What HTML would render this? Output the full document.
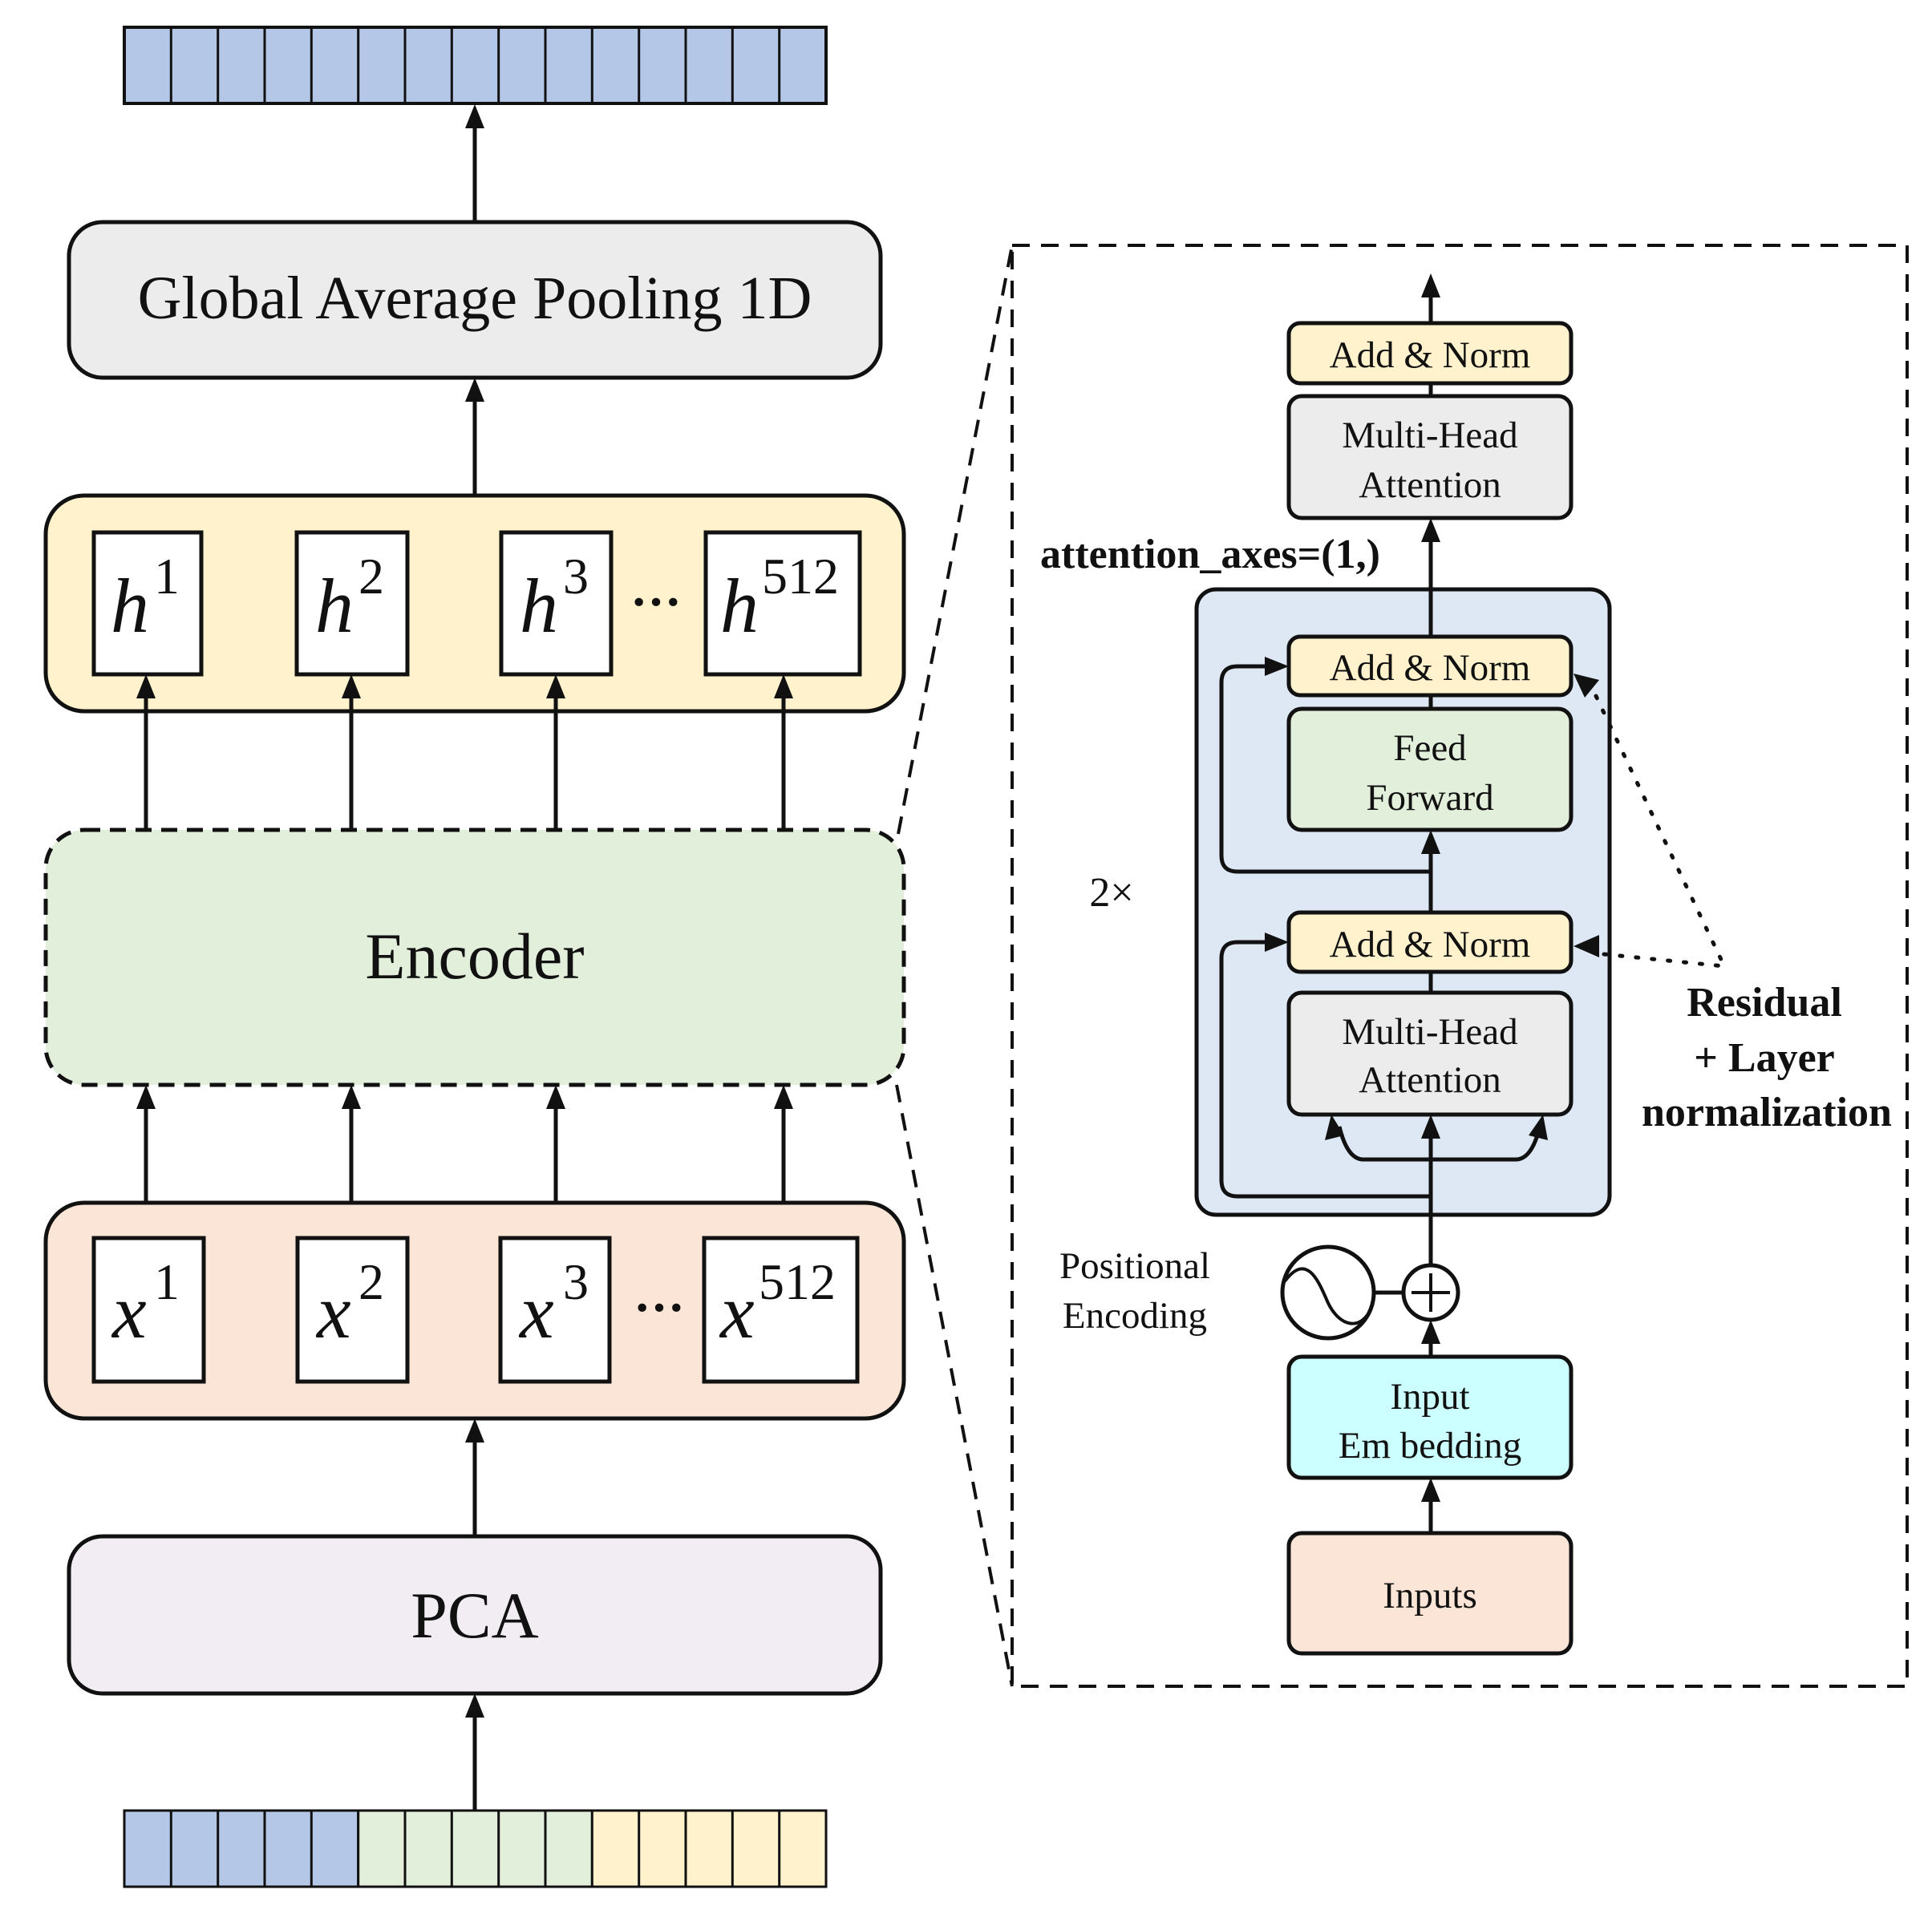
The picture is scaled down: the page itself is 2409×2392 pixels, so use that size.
<!DOCTYPE html>
<html><head><meta charset="utf-8"><style>html,body{margin:0;padding:0;background:#fff}svg{display:block}</style></head><body>
<svg width="2409" height="2392" viewBox="0 0 2409 2392" xmlns="http://www.w3.org/2000/svg" font-family="'Liberation Serif', serif">
<g stroke="#111" stroke-width="5" fill="none">
<rect x="155" y="34" width="875" height="95" fill="#b4c7e7" stroke-width="4"/>
</g>
<g stroke="#111" stroke-width="3">
<line x1="213.3" y1="34" x2="213.3" y2="129"/><line x1="271.7" y1="34" x2="271.7" y2="129"/><line x1="330" y1="34" x2="330" y2="129"/><line x1="388.3" y1="34" x2="388.3" y2="129"/><line x1="446.7" y1="34" x2="446.7" y2="129"/><line x1="505" y1="34" x2="505" y2="129"/><line x1="563.3" y1="34" x2="563.3" y2="129"/><line x1="621.7" y1="34" x2="621.7" y2="129"/><line x1="680" y1="34" x2="680" y2="129"/><line x1="738.3" y1="34" x2="738.3" y2="129"/><line x1="796.7" y1="34" x2="796.7" y2="129"/><line x1="855" y1="34" x2="855" y2="129"/><line x1="913.3" y1="34" x2="913.3" y2="129"/><line x1="971.7" y1="34" x2="971.7" y2="129"/>
</g>
<g stroke="#111" stroke-width="3">
<rect x="155" y="2258" width="291.7" height="95" fill="#b4c7e7"/>
<rect x="446.7" y="2258" width="291.7" height="95" fill="#e2efda"/>
<rect x="738.3" y="2258" width="291.7" height="95" fill="#fff2cc"/>
<line x1="213.3" y1="2258" x2="213.3" y2="2353"/><line x1="271.7" y1="2258" x2="271.7" y2="2353"/><line x1="330" y1="2258" x2="330" y2="2353"/><line x1="388.3" y1="2258" x2="388.3" y2="2353"/><line x1="505" y1="2258" x2="505" y2="2353"/><line x1="563.3" y1="2258" x2="563.3" y2="2353"/><line x1="621.7" y1="2258" x2="621.7" y2="2353"/><line x1="680" y1="2258" x2="680" y2="2353"/><line x1="796.7" y1="2258" x2="796.7" y2="2353"/><line x1="855" y1="2258" x2="855" y2="2353"/><line x1="913.3" y1="2258" x2="913.3" y2="2353"/><line x1="971.7" y1="2258" x2="971.7" y2="2353"/>
</g>
<g stroke="#111" stroke-width="5">
<rect x="86" y="277" width="1012" height="194" rx="42" fill="#ececec"/>
<rect x="57" y="618" width="1070" height="269" rx="48" fill="#fff2cc"/>
<rect x="57" y="1035" width="1070" height="318" rx="48" fill="#e2efda" stroke-dasharray="20,12"/>
<rect x="57" y="1500" width="1070" height="269" rx="48" fill="#fbe5d6"/>
<rect x="86" y="1916" width="1012" height="196" rx="42" fill="#f1edf3"/>
<g fill="#fff">
<rect x="117" y="664" width="134" height="177"/><rect x="370" y="664" width="138" height="177"/><rect x="625" y="664" width="137" height="177"/><rect x="880" y="664" width="192" height="177"/>
<rect x="117" y="1544" width="137" height="179"/><rect x="371" y="1544" width="137" height="179"/><rect x="624" y="1544" width="136" height="179"/><rect x="878" y="1544" width="191" height="179"/>
</g>
<line x1="592" y1="277" x2="592" y2="150"/>
<line x1="592" y1="618" x2="592" y2="490"/>
<line x1="182" y1="1035" x2="182" y2="860"/><line x1="438" y1="1035" x2="438" y2="860"/><line x1="693" y1="1035" x2="693" y2="860"/><line x1="977" y1="1035" x2="977" y2="860"/>
<line x1="182" y1="1500" x2="182" y2="1372"/><line x1="438" y1="1500" x2="438" y2="1372"/><line x1="693" y1="1500" x2="693" y2="1372"/><line x1="977" y1="1500" x2="977" y2="1372"/>
<line x1="592" y1="1916" x2="592" y2="1788"/>
<line x1="592" y1="2258" x2="592" y2="2130"/>
</g>
<g fill="#111">
<polygon points="592,130 580,160 604,160"/><polygon points="592,471 580,501 604,501"/>
<polygon points="182,841 170,871 194,871"/><polygon points="438,841 426,871 450,871"/><polygon points="693,841 681,871 705,871"/><polygon points="977,841 965,871 989,871"/>
<polygon points="182,1353 170,1383 194,1383"/><polygon points="438,1353 426,1383 450,1383"/><polygon points="693,1353 681,1383 705,1383"/><polygon points="977,1353 965,1383 989,1383"/>
<polygon points="592,1769 580,1799 604,1799"/><polygon points="592,2112 580,2142 604,2142"/>
</g>
<text x="592" y="397" font-size="76" text-anchor="middle" fill="#111">Global Average Pooling 1D</text>
<text x="592" y="1220" font-size="82" text-anchor="middle" fill="#111">Encoder</text>
<text x="592" y="2042" font-size="82" text-anchor="middle" fill="#111">PCA</text>
<g font-size="96" font-style="italic" fill="#111">
<text x="138" y="788">h</text><text x="393" y="788">h</text><text x="648" y="788">h</text><text x="898" y="788">h</text>
<text x="140" y="1668">x</text><text x="395" y="1668">x</text><text x="648" y="1668">x</text><text x="898" y="1668">x</text>
</g>
<g font-size="64" fill="#111">
<text x="192" y="740">1</text><text x="447" y="740">2</text><text x="702" y="740">3</text><text x="950" y="740">512</text>
<text x="192" y="1620">1</text><text x="447" y="1620">2</text><text x="702" y="1620">3</text><text x="946" y="1620">512</text>
</g>
<text x="818" y="772" font-size="64" font-weight="bold" text-anchor="middle" fill="#111">···</text>
<text x="822" y="1652" font-size="64" font-weight="bold" text-anchor="middle" fill="#111">···</text>
<g stroke="#111" stroke-width="4" fill="none" stroke-dasharray="22,14">
<rect x="1262" y="306" width="1116" height="1797"/>
<line x1="1120" y1="1040" x2="1262" y2="306"/>
<line x1="1118" y1="1353" x2="1262" y2="2103"/>
</g>
<g stroke="#111" stroke-width="5">
<rect x="1492" y="735" width="515" height="780" rx="24" fill="#dde8f4"/>
<line x1="1784" y1="403" x2="1784" y2="358"/>
<line x1="1784" y1="478" x2="1784" y2="494"/>
<line x1="1784" y1="794" x2="1784" y2="663"/>
<line x1="1784" y1="867" x2="1784" y2="884"/>
<line x1="1784" y1="1138" x2="1784" y2="1052"/>
<line x1="1784" y1="1212" x2="1784" y2="1238"/>
<line x1="1784" y1="1578" x2="1784" y2="1407"/>
<line x1="1784" y1="1692" x2="1784" y2="1663"/>
<line x1="1784" y1="1912" x2="1784" y2="1860"/>
<path d="M1784,1087 H1543 Q1523,1087 1523,1067 V851 Q1523,831 1543,831 H1590" fill="none"/>
<path d="M1784,1492 H1543 Q1523,1492 1523,1472 V1195 Q1523,1175 1543,1175 H1590" fill="none"/>
<path d="M1670,1405 Q1680,1446 1700,1446 H1890 Q1910,1446 1920,1405" fill="none"/>
<rect x="1607" y="403" width="352" height="75" rx="14" fill="#fff2cc"/>
<rect x="1607" y="494" width="352" height="152" rx="16" fill="#ececec"/>
<rect x="1607" y="794" width="352" height="73" rx="14" fill="#fff2cc"/>
<rect x="1607" y="884" width="352" height="151" rx="16" fill="#e2efda"/>
<rect x="1607" y="1138" width="352" height="74" rx="14" fill="#fff2cc"/>
<rect x="1607" y="1238" width="352" height="152" rx="16" fill="#ececec"/>
<rect x="1607" y="1692" width="352" height="151" rx="16" fill="#ccffff"/>
<rect x="1607" y="1912" width="352" height="150" rx="16" fill="#fbe5d6"/>
<circle cx="1656" cy="1612" r="57" fill="#fff"/>
<path d="M1602,1598 C1630,1560 1645,1600 1656,1625 C1668,1650 1690,1660 1705,1640" fill="none" stroke-width="4"/>
<line x1="1713" y1="1612" x2="1750" y2="1612"/>
<circle cx="1784" cy="1612" r="34" fill="#fff"/>
<line x1="1760" y1="1612" x2="1808" y2="1612" stroke-width="4"/>
<line x1="1784" y1="1588" x2="1784" y2="1636" stroke-width="4"/>
</g>
<g fill="#111">
<polygon points="1784,341 1772,371 1796,371"/>
<polygon points="1784,646 1772,676 1796,676"/>
<polygon points="1784,1035 1772,1065 1796,1065"/>
<polygon points="1784,1390 1772,1420 1796,1420"/>
<polygon points="1660,1390 1652,1422 1676,1416"/>
<polygon points="1924,1390 1906,1416 1930,1422"/>
<polygon points="1784,1646 1772,1676 1796,1676"/>
<polygon points="1784,1843 1772,1873 1796,1873"/>
<polygon points="1607,831 1577,819 1577,843"/>
<polygon points="1607,1175 1577,1163 1577,1187"/>
<polygon points="1962,1180 1994,1166 1994,1194"/>
<polygon points="1962,840 1994,848 1976,870"/>
</g>
<g stroke="#111" stroke-width="5" stroke-dasharray="3,17" stroke-linecap="round" fill="none">
<line x1="2000" y1="1190" x2="2150" y2="1205"/>
<line x1="1990" y1="868" x2="2150" y2="1205"/>
</g>
<g font-size="47" text-anchor="middle" fill="#111">
<text x="1783" y="458">Add &amp; Norm</text>
<text x="1783" y="558">Multi-Head</text><text x="1783" y="620">Attention</text>
<text x="1783" y="848">Add &amp; Norm</text>
<text x="1783" y="948">Feed</text><text x="1783" y="1010">Forward</text>
<text x="1783" y="1193">Add &amp; Norm</text>
<text x="1783" y="1302">Multi-Head</text><text x="1783" y="1362">Attention</text>
<text x="1783" y="1757">Input</text><text x="1783" y="1818">Em bedding</text>
<text x="1783" y="2005">Inputs</text>
<text x="1415" y="1594">Positional</text><text x="1415" y="1656">Encoding</text>
<text x="1386" y="1130" font-size="52">2×</text>
</g>
<g font-size="52" font-weight="bold" fill="#111">
<text x="1297" y="708">attention_axes=(1,)</text>
<g text-anchor="middle"><text x="2200" y="1267">Residual</text><text x="2200" y="1336">+ Layer</text><text x="2203" y="1404">normalization</text></g>
</g>
</svg>
</body></html>
